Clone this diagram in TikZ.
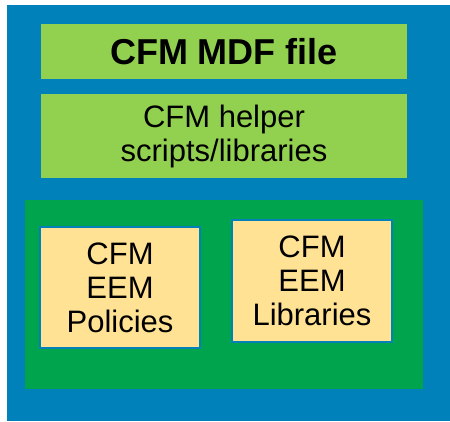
\documentclass[tikz,border=0pt]{standalone}
\usepackage{fontspec}
\setmainfont{Liberation Sans}
\definecolor{cfmblue}{HTML}{0081BA}
\definecolor{cfmlime}{HTML}{92D050}
\definecolor{cfmgreen}{HTML}{00A44C}
\definecolor{cfmyellow}{HTML}{FFE293}
\tikzset{
  layer/.style={fill=cfmlime, inner sep=0pt, align=center,
    minimum width=366pt, font=\fontsize{31}{34}\selectfont},
  module/.style={fill=cfmyellow, draw=cfmblue, line width=1.5pt,
    inner sep=0pt, align=center, minimum width=160pt,
    font=\fontsize{31}{34}\selectfont}
}
\begin{document}
\begin{tikzpicture}[x=1pt,y=-1pt]
  \useasboundingbox (0,0) rectangle (450,421);
  \node[fill=cfmblue, minimum width=443pt, minimum height=416pt] (frame) at (228.5,213) {};
  \node[layer, minimum height=55pt, font=\fontsize{36}{40}\selectfont\bfseries] (mdf) at (224,51.5) {CFM MDF file};
  \node[layer, minimum height=84pt] (helper) at (224,136) {CFM helper\\scripts/libraries};
  \node[fill=cfmgreen, minimum width=398pt, minimum height=189pt] (eem) at (224,294.5) {};
  \node[module, minimum height=121pt] (policies) at (120,287.5) {CFM\\EEM\\Policies};
  \node[module, minimum height=122pt] (libraries) at (312,281) {CFM\\EEM\\Libraries};
\end{tikzpicture}
\end{document}
